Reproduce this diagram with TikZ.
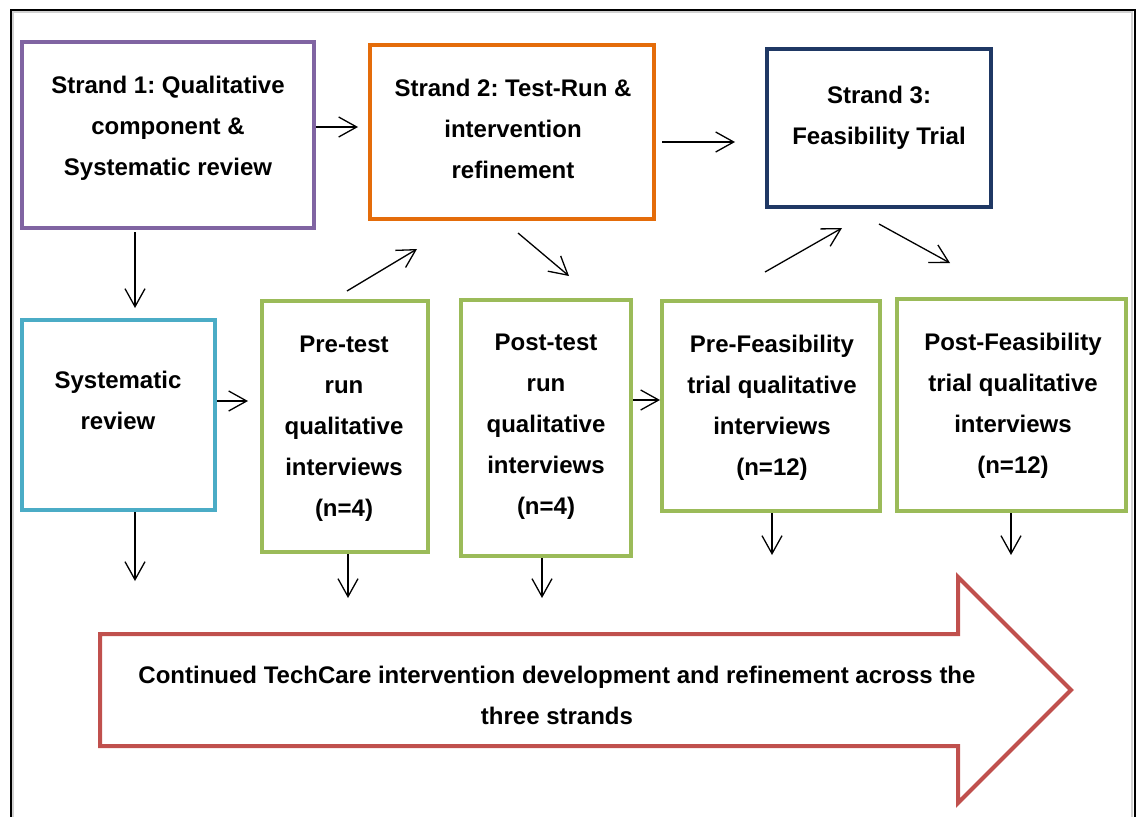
\documentclass[tikz,border=0pt]{standalone}
\usepackage{fontspec}
\setmainfont{Liberation Sans}
\usetikzlibrary{arrows.meta,calc}

\definecolor{strandpurple}{HTML}{8064A2}
\definecolor{strandorange}{HTML}{E46C0A}
\definecolor{strandnavy}{HTML}{1F3864}
\definecolor{reviewblue}{HTML}{4BACC6}
\definecolor{interviewgreen}{HTML}{9BBB59}
\definecolor{devred}{HTML}{C0504D}

\begin{document}
\frenchspacing
\begin{tikzpicture}[x=1pt,y=-1pt,
  box/.style={draw=#1, line width=4pt, rectangle, inner sep=0pt, fill=white},
  % multi-line texts: the base anchor sits on the baseline of the last line
  txt/.style={align=center, inner sep=0pt, anchor=base,
    font=\bfseries\fontsize{24pt}{41pt}\selectfont},
  arr/.style={-{Straight Barb[length=18pt,width=20pt]}, line width=1.3pt},
]
\useasboundingbox (0,0) rectangle (1137,816);
\clip (0,0) rectangle (1137,816);

% outer frame with a soft inner shadow
\draw[line width=2pt, black!18] (13,830) -- (13,12.5) -- (1132,12.5) -- (1132,830);
\draw[line width=2pt] (10.5,830) -- (10.5,10) -- (1135,10) -- (1135,830);

% strand boxes
\node[box=strandpurple, minimum width=292pt, minimum height=186pt] (s1) at (168,135) {};
\node[box=strandorange, minimum width=284pt, minimum height=174pt] (s2) at (512,132) {};
\node[box=strandnavy, minimum width=224pt, minimum height=158pt] (s3) at (879,128) {};

% component boxes
\node[box=reviewblue, minimum width=193pt, minimum height=190pt] (sr) at (118.5,415) {};
\node[box=interviewgreen, minimum width=166pt, minimum height=251pt] (pt) at (345,426.5) {};
\node[box=interviewgreen, minimum width=170pt, minimum height=256pt] (qt) at (546,428) {};
\node[box=interviewgreen, minimum width=218pt, minimum height=210pt] (pf) at (771,406) {};
\node[box=interviewgreen, minimum width=229pt, minimum height=212pt] (qf) at (1011.5,405) {};

% box texts
\node[txt] (s1t) at (168,175) {Strand 1: Qualitative\\component \&\\Systematic review};
\node[txt] (s2t) at (513,178) {Strand 2: Test-Run \&\\intervention\\refinement};
\node[txt] (s3t) at (879,144.5) {Strand 3:\\Feasibility Trial};
\node[txt] (srt) at (118,429) {Systematic\\review};
\node[txt] (ptt) at (344,516) {Pre-test\\run\\qualitative\\interviews\\(n=4)};
\node[txt] (qtt) at (546,514) {Post-test\\run\\qualitative\\interviews\\(n=4)};
\node[txt] (pft) at (772,475) {Pre-Feasibility\\trial qualitative\\interviews\\(n=12)};
\node[txt] (qft) at (1013,473) {Post-Feasibility\\trial qualitative\\interviews\\(n=12)};

% development arrow
\draw[devred, line width=4pt, line join=miter]
  (100,634) -- (958,634) -- (958,577) -- (1071,690) -- (958,803)
  -- (958,746) -- (100,746) -- cycle;
\node[txt] (dev) at (557,724)
  {Continued TechCare intervention development and refinement across the\\three strands};

% free ends of the downward arrows, resting above the development arrow
\coordinate (dsr) at (135,581);
\coordinate (dpt) at (348,598);
\coordinate (dqt) at (542,598);
\coordinate (dpf) at (772,555);
\coordinate (dqf) at (1011,555);

% connectors
\draw[arr] ($(s1.east)+(0,-8)$) -- ($(s2.west)+(-10,-5)$);
\draw[arr] ($(s2.east)+(6,10)$) -- ($(s3.west)+(-30,14)$);
\draw[arr] ($(s1.south)+(-33,2)$) -- ($(sr.north)+(16.5,-10)$);
\draw[arr] ($(sr.east)+(0,-14)$) -- ($(pt.west)+(-12,-25.5)$);
\draw[arr] ($(pt.north)+(2,-8)$) -- ($(s2.south)+(-95,28)$);
\draw[arr] ($(s2.south)+(6,12)$) -- ($(qt.north)+(23,-22)$);
\draw[arr] ($(qt.east)+(0,-28)$) -- ($(pf.west)+(0,-6)$);
\draw[arr] ($(pf.north)+(-6,-27)$) -- ($(s3.south)+(-37,19)$);
\draw[arr] ($(s3.south)+(0,15)$) -- ($(qf.north)+(-61.5,-34)$);

\draw[arr] ($(sr.south)+(16.5,0)$) -- (dsr);
\draw[arr] ($(pt.south)+(3,0)$) -- (dpt);
\draw[arr] ($(qt.south)+(-4,0)$) -- (dqt);
\draw[arr] ($(pf.south)+(1,0)$) -- (dpf);
\draw[arr] ($(qf.south)+(-0.5,0)$) -- (dqf);
\end{tikzpicture}
\end{document}
